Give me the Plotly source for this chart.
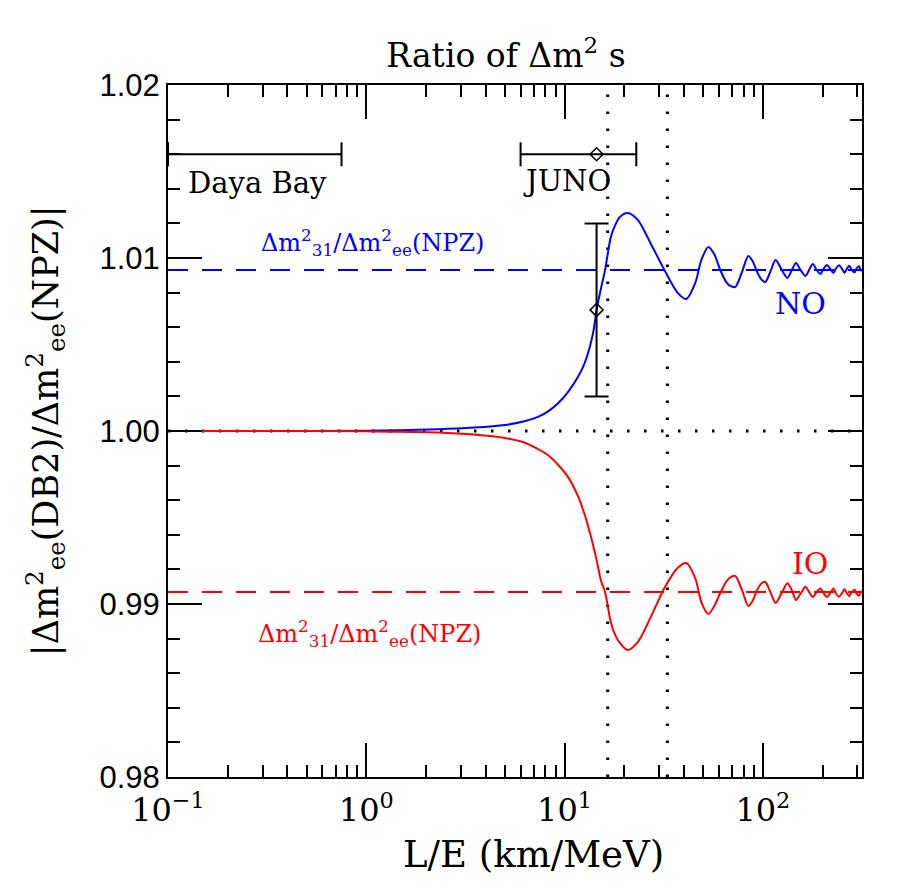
import plotly.graph_objects as go

# ---- data ----
le_no = [0.1, 0.3, 1.0, 2.3, 3.5, 5.0, 6.2, 7.35, 8.3, 9.27, 10.4, 11.67, 12.6, 13.4, 14.0, 14.5,
         15.3, 16.0, 17.1, 18.0, 19.0, 20.8, 23.4, 27.1, 31.9, 37.1, 41.1, 45.6, 49.0, 53.1, 57.0,
         61.0, 66.5, 72.5, 78.5, 84.5, 89.0, 93.5, 98.5, 103.0, 109.0, 116.0, 124.0, 133.0, 140.0,
         147.0, 155.0, 164.0, 171.0, 178.5, 187.0, 195.0, 203.0, 210.0, 218.0, 227.0, 234.0, 242.0,
         250.0, 258.0, 266.0, 273.0, 281.0, 290.0, 297.0, 305.0, 312.0, 316.0]
ratio_no = [1.00000, 1.00000, 1.00002, 1.00010, 1.00020, 1.00035, 1.00055, 1.00082, 1.00115, 1.00160,
            1.00225, 1.00312, 1.00390, 1.00486, 1.00580, 1.00700, 1.00830, 1.00930, 1.01120, 1.01190,
            1.01237, 1.01260, 1.01220, 1.01087, 1.00930, 1.00800, 1.00763, 1.00855, 1.00990, 1.01064,
            1.01020, 1.00930, 1.00850, 1.00832, 1.00920, 1.01012, 1.00980, 1.00920, 1.00875, 1.00861,
            1.00920, 1.00988, 1.00935, 1.00884, 1.00930, 1.00971, 1.00930, 1.00896, 1.00930, 1.00965,
            1.00930, 1.00908, 1.00940, 1.00960, 1.00940, 1.00913, 1.00940, 1.00958, 1.00940, 1.00915,
            1.00940, 1.00955, 1.00930, 1.00917, 1.00940, 1.00953, 1.00930, 1.00925]

le_io = [0.1, 0.3, 1.0, 2.3, 3.5, 5.0, 6.2, 7.35, 8.3, 9.27, 10.4, 11.67, 12.6, 13.4, 14.0, 14.5,
         15.3, 16.0, 17.1, 18.0, 19.0, 20.8, 23.4, 27.1, 31.9, 37.1, 41.1, 45.6, 49.0, 53.1, 57.0,
         61.0, 66.5, 72.5, 78.5, 84.5, 89.0, 93.5, 98.5, 103.0, 109.0, 116.0, 124.0, 133.0, 140.0,
         147.0, 155.0, 164.0, 171.0, 178.5, 187.0, 195.0, 203.0, 210.0, 218.0, 227.0, 234.0, 242.0,
         250.0, 258.0, 266.0, 273.0, 281.0, 290.0, 297.0, 305.0, 312.0, 316.0]
ratio_io = [1.00000, 1.00000, 0.99998, 0.99992, 0.99980, 0.99960, 0.99935, 0.99895, 0.99858, 0.99805,
            0.99735, 0.99625, 0.99520, 0.99415, 0.99330, 0.99255, 0.99130, 0.99069, 0.98896, 0.98820,
            0.98775, 0.98734, 0.98780, 0.98920, 0.99092, 0.99208, 0.99237, 0.99150, 0.99010, 0.98942,
            0.98990, 0.99064, 0.99140, 0.99162, 0.99080, 0.98988, 0.99020, 0.99080, 0.99120, 0.99127,
            0.99070, 0.99006, 0.99060, 0.99120, 0.99080, 0.99023, 0.99060, 0.99100, 0.99070, 0.99040,
            0.99070, 0.99090, 0.99060, 0.99040, 0.99060, 0.99090, 0.99060, 0.99042, 0.99060, 0.99085,
            0.99060, 0.99045, 0.99070, 0.99083, 0.99060, 0.99047, 0.99070, 0.99075]

npz_no = 1.0093
npz_io = 0.9907
le_range = [0.1, 316.0]
ratio_range = [0.98, 1.02]
dotted_le = [16.5, 33.0]
unity = 1.0

daya_lo, daya_hi, daya_y = 0.1, 0.75, 1.016
juno_lo, juno_c, juno_hi, juno_y = 6.0, 14.5, 23.0, 1.016
juno_pt, juno_lo_y, juno_hi_y = 1.007, 1.002, 1.012

x_tickvals = [0.1, 1, 10, 100]
x_ticktext = ["10<sup>\u22121</sup>", "10<sup>0</sup>", "10<sup>1</sup>", "10<sup>2</sup>"]
y_tickvals = [0.98, 0.99, 1.00, 1.01, 1.02]
y_ticktext = ["0.98", "0.99", "1.00", "1.01", "1.02"]

BLUE = "#0000ff"
RED = "#ff0000"
SERIF = "DejaVu Serif"

fig = go.Figure()

# dotted reference lines
for v in dotted_le:
    fig.add_trace(go.Scatter(x=[v, v], y=ratio_range, mode="lines",
                             line=dict(color="black", width=3, dash="2.5px,14.5px"),
                             hoverinfo="skip", showlegend=False))
fig.add_trace(go.Scatter(x=le_range, y=[unity, unity], mode="lines",
                         line=dict(color="black", width=3, dash="2.5px,14.5px"),
                         hoverinfo="skip", showlegend=False))

# dashed NPZ lines
fig.add_trace(go.Scatter(x=le_range, y=[npz_no, npz_no], mode="lines",
                         line=dict(color=BLUE, width=2, dash="20px,14px"), showlegend=False))
fig.add_trace(go.Scatter(x=le_range, y=[npz_io, npz_io], mode="lines",
                         line=dict(color=RED, width=2, dash="20px,14px"), showlegend=False))

# curves
fig.add_trace(go.Scatter(x=le_no, y=ratio_no, mode="lines",
                         line=dict(color=BLUE, width=2, shape="spline", smoothing=0.8),
                         showlegend=False))
fig.add_trace(go.Scatter(x=le_io, y=ratio_io, mode="lines",
                         line=dict(color=RED, width=2, shape="spline", smoothing=0.8),
                         showlegend=False))

# Daya Bay range bar
fig.add_trace(go.Scatter(x=[daya_hi], y=[daya_y], mode="markers",
                         marker=dict(size=1, color="rgba(0,0,0,0)"),
                         error_x=dict(type="data", symmetric=False, array=[0],
                                      arrayminus=[daya_hi - daya_lo], color="black",
                                      thickness=2, width=12),
                         showlegend=False))

# JUNO range bar
fig.add_trace(go.Scatter(x=[juno_c], y=[juno_y], mode="markers",
                         marker=dict(symbol="diamond-open", size=10, color="black",
                                     line=dict(width=1.5, color="black")),
                         error_x=dict(type="data", symmetric=False, array=[juno_hi - juno_c],
                                      arrayminus=[juno_c - juno_lo], color="black",
                                      thickness=2, width=12),
                         showlegend=False))

# JUNO vertical point with error
fig.add_trace(go.Scatter(x=[juno_c], y=[juno_pt], mode="markers",
                         marker=dict(symbol="diamond-open", size=10, color="black",
                                     line=dict(width=1.5, color="black")),
                         error_y=dict(type="data", symmetric=False, array=[juno_hi_y - juno_pt],
                                      arrayminus=[juno_pt - juno_lo_y], color="black",
                                      thickness=2, width=12),
                         showlegend=False))

npz_label = "\u0394m<sup>2</sup><sub>31</sub>/\u0394m<sup>2</sup><sub>ee</sub>(NPZ)"
ann = [
    dict(x=0.026, y=0.858, xref="paper", yref="paper", text="Daya Bay", xanchor="left",
         yanchor="middle", showarrow=False, font=dict(family=SERIF, size=29, color="black")),
    dict(x=0.508, y=0.861, xref="paper", yref="paper", text="JUNO", xanchor="left",
         yanchor="middle", showarrow=False, font=dict(family=SERIF, size=29, color="black")),
    dict(x=0.294, y=0.772, xref="paper", yref="paper", text=npz_label,
         xanchor="center", yanchor="middle", showarrow=False,
         font=dict(family=SERIF, size=24, color=BLUE)),
    dict(x=0.291, y=0.208, xref="paper", yref="paper", text=npz_label,
         xanchor="center", yanchor="middle", showarrow=False,
         font=dict(family=SERIF, size=24, color=RED)),
    dict(x=0.912, y=0.684, xref="paper", yref="paper", text="NO", xanchor="center",
         yanchor="middle", showarrow=False, font=dict(family=SERIF, size=30, color=BLUE)),
    dict(x=0.925, y=0.309, xref="paper", yref="paper", text="IO", xanchor="center",
         yanchor="middle", showarrow=False, font=dict(family=SERIF, size=30, color=RED)),
    dict(x=0.526, y=-0.112, xref="paper", yref="paper", text="L/E (km/MeV)",
         xanchor="center", yanchor="middle", showarrow=False,
         font=dict(family=SERIF, size=37, color="black")),
    dict(x=-0.177, y=0.50, xref="paper", yref="paper",
         text="|\u0394m<sup>2</sup><sub>ee</sub>(DB2)/\u0394m<sup>2</sup><sub>ee</sub>(NPZ)|",
         textangle=-90, xanchor="center", yanchor="middle", showarrow=False,
         font=dict(family=SERIF, size=35, color="black")),
]

fig.update_layout(
    width=915, height=890,
    margin=dict(l=168, r=53, t=85, b=113),
    paper_bgcolor="white", plot_bgcolor="white",
    title=dict(text="Ratio of \u0394m<sup>2</sup> s", x=0.553, xref="container", xanchor="center",
               y=0.938, yref="container", yanchor="middle",
               font=dict(family=SERIF, size=33, color="black")),
    annotations=ann,
    showlegend=False,
)

fig.update_xaxes(type="log", range=[-1, 2.5], showgrid=False, zeroline=False,
                 showline=True, linecolor="black", linewidth=2, mirror="ticks",
                 ticks="inside", ticklen=34, tickwidth=1.5, tickcolor="black",
                 tickmode="array", tickvals=x_tickvals, ticktext=x_ticktext,
                 ticklabelstandoff=4,
                 tickfont=dict(family=SERIF, size=32, color="black"),
                 minor=dict(ticks="inside", ticklen=12, tickwidth=1.5, tickcolor="black",
                            dtick="D1", showgrid=False))
fig.update_yaxes(range=ratio_range, showgrid=False, zeroline=False,
                 showline=True, linecolor="black", linewidth=2, mirror="ticks",
                 ticks="inside", ticklen=34, tickwidth=1.5, tickcolor="black",
                 tickmode="array", tickvals=y_tickvals, ticktext=y_ticktext,
                 tickfont=dict(family="Liberation Sans", size=31, color="black"),
                 minor=dict(ticks="inside", ticklen=12, tickwidth=1.5, tickcolor="black",
                            dtick=0.002, showgrid=False))

fig.write_html("out.html")
